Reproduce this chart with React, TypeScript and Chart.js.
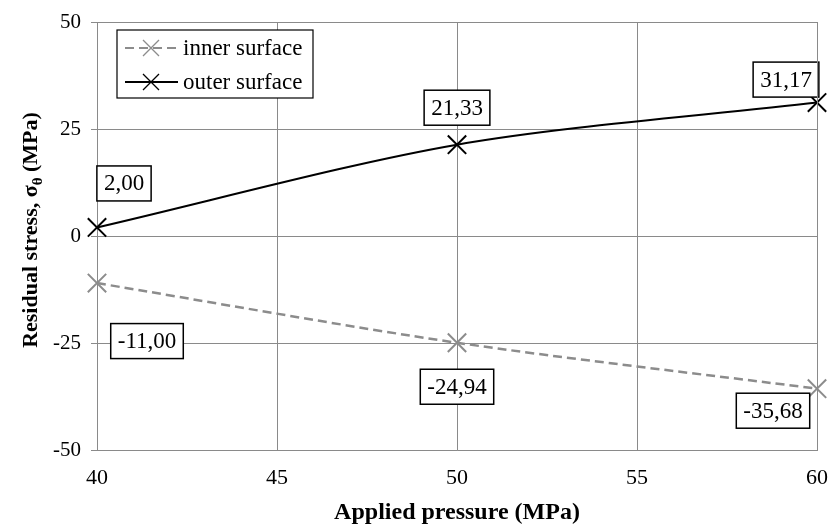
import React, { useEffect, useRef } from "react";
import { Chart, registerables } from "chart.js";

Chart.register(...registerables);

const pressures = [40, 50, 60];
const innerSurface = [-11.0, -24.94, -35.68];
const outerSurface = [2.0, 21.33, 31.17];
const yTicks = [-50, -25, 0, 25, 50];
const xTicks = [40, 45, 50, 55, 60];
const seriesNames = ["inner surface", "outer surface"];
const xTitle = "Applied pressure (MPa)";
const yTitleParts = ["Residual stress, σ", "θ", " (MPa)"];

// label offsets relative to the point (pixels)
const innerLabelOffsets = [
  [50, 58],
  [0, 44],
  [-44, 22],
];
const outerLabelOffsets = [
  [27, -44],
  [0, -37],
  [-31, -23],
];

const FONT = "'Liberation Serif', 'Times New Roman', serif";
const GRID = "#8a8a8a";
const INNER_COLOR = "#8c8c8c";

const fmt = (v: number) => v.toFixed(2).replace(".", ",");

const labelPlugin = {
  id: "boxLabels",
  afterDatasetsDraw(chart: any) {
    const ctx = chart.ctx;
    const offsetsList = [innerLabelOffsets, outerLabelOffsets];
    ctx.save();
    ctx.font = `23px ${FONT}`;
    ctx.textAlign = "center";
    ctx.textBaseline = "middle";
    chart.data.datasets.forEach((ds: any, di: number) => {
      const meta = chart.getDatasetMeta(di);
      meta.data.forEach((pt: any, i: number) => {
        const text = fmt(ds.data[i].y);
        const [dx, dy] = offsetsList[di][i];
        const cx = pt.x + dx;
        const cy = pt.y + dy;
        const w = ctx.measureText(text).width + 14;
        const h = 35;
        ctx.fillStyle = "#fff";
        ctx.fillRect(cx - w / 2, cy - h / 2, w, h);
        ctx.strokeStyle = "#000";
        ctx.lineWidth = 1.5;
        ctx.strokeRect(cx - w / 2, cy - h / 2, w, h);
        ctx.fillStyle = "#000";
        ctx.fillText(text, cx, cy + 1);
      });
    });
    ctx.restore();
  },
};

const legendPlugin = {
  id: "boxLegend",
  afterDraw(chart: any) {
    const ctx = chart.ctx;
    const { left, top } = chart.chartArea;
    const x0 = left + 20;
    const y0 = top + 8;
    const w = 196;
    const h = 68;
    ctx.save();
    ctx.fillStyle = "#fff";
    ctx.fillRect(x0, y0, w, h);
    ctx.strokeStyle = "#000";
    ctx.lineWidth = 1.2;
    ctx.strokeRect(x0, y0, w, h);
    ctx.font = `23px ${FONT}`;
    ctx.textBaseline = "middle";
    ctx.textAlign = "left";
    chart.data.datasets.forEach((ds: any, i: number) => {
      const cy = y0 + 18 + i * 34;
      ctx.strokeStyle = ds.borderColor;
      ctx.lineWidth = 2;
      ctx.setLineDash(ds.borderDash || []);
      ctx.beginPath();
      ctx.moveTo(x0 + 8, cy);
      ctx.lineTo(x0 + 61, cy);
      ctx.stroke();
      ctx.setLineDash([]);
      ctx.lineWidth = 1.3;
      const mx = x0 + 34;
      const r = 8;
      ctx.beginPath();
      ctx.moveTo(mx - r, cy - r);
      ctx.lineTo(mx + r, cy + r);
      ctx.moveTo(mx - r, cy + r);
      ctx.lineTo(mx + r, cy - r);
      ctx.stroke();
      ctx.fillStyle = "#000";
      ctx.fillText(ds.label, x0 + 66, cy + 1);
    });
    ctx.restore();
  },
};

const yTitlePlugin = {
  id: "yTitle",
  afterDraw(chart: any) {
    const ctx = chart.ctx;
    const { top, bottom } = chart.chartArea;
    ctx.save();
    ctx.translate(29, (top + bottom) / 2 - 6);
    ctx.rotate(-Math.PI / 2);
    ctx.fillStyle = "#000";
    ctx.textBaseline = "alphabetic";
    const big = `bold 22px ${FONT}`;
    const small = `bold 15px ${FONT}`;
    ctx.font = big;
    const w0 = ctx.measureText(yTitleParts[0]).width;
    const w2 = ctx.measureText(yTitleParts[2]).width;
    ctx.font = small;
    const w1 = ctx.measureText(yTitleParts[1]).width;
    let x = -(w0 + w1 + w2) / 2;
    const base = 8;
    ctx.font = big;
    ctx.fillText(yTitleParts[0], x, base);
    x += w0;
    ctx.font = small;
    ctx.fillText(yTitleParts[1], x, base + 5);
    x += w1;
    ctx.font = big;
    ctx.fillText(yTitleParts[2], x, base);
    ctx.restore();
  },
};

export default function App() {
  const ref = useRef<HTMLCanvasElement>(null);
  useEffect(() => {
    if (!ref.current) return;
    const chart = new Chart(ref.current, {
      type: "line",
      data: {
        datasets: [
          {
            label: seriesNames[0],
            data: pressures.map((x, i) => ({ x, y: innerSurface[i] })),
            borderColor: INNER_COLOR,
            backgroundColor: INNER_COLOR,
            borderWidth: 2.5,
            borderDash: [9, 5],
            pointStyle: "crossRot",
            pointRadius: 13,
            pointBorderWidth: 2,
            tension: 0.3,
            clip: false,
          },
          {
            label: seriesNames[1],
            data: pressures.map((x, i) => ({ x, y: outerSurface[i] })),
            borderColor: "#000",
            backgroundColor: "#000",
            borderWidth: 2,
            pointStyle: "crossRot",
            pointRadius: 13,
            pointBorderWidth: 2,
            tension: 0.3,
            clip: false,
          },
        ],
      },
      options: {
        animation: false,
        responsive: false,
        layout: { autoPadding: false, padding: { left: 0, right: 11, top: 22, bottom: 0 } },
        plugins: { legend: { display: false }, tooltip: { enabled: false } },
        scales: {
          x: {
            type: "linear",
            min: 40,
            max: 60,
            afterBuildTicks: (s: any) => {
              s.ticks = xTicks.map((v) => ({ value: v }));
            },
            afterFit: (s: any) => {
              s.height = 77;
              s.paddingLeft = 0;
              s.paddingRight = 0;
            },
            grid: { color: GRID, lineWidth: 1, tickLength: 0, drawTicks: false },
            border: { color: GRID, width: 1 },
            ticks: { color: "#000", font: { family: FONT, size: 22 }, padding: 15, maxRotation: 0 },
            title: {
              display: true,
              text: xTitle,
              color: "#000",
              font: { family: FONT, size: 24, weight: "bold" },
              padding: { top: 0, bottom: 0 },
            },
          },
          y: {
            type: "linear",
            min: -50,
            max: 50,
            afterBuildTicks: (s: any) => {
              s.ticks = yTicks.map((v) => ({ value: v }));
            },
            afterFit: (s: any) => {
              s.width = 97;
              s.paddingTop = 0;
              s.paddingBottom = 0;
            },
            grid: { color: GRID, lineWidth: 1, tickLength: 6 },
            border: { color: GRID, width: 1 },
            ticks: { color: "#000", font: { family: FONT, size: 21 }, padding: 10 },
          },
        },
      },
      plugins: [
        {
          id: "frame",
          afterDraw(chart: any) {
            const { left, right, top, bottom } = chart.chartArea;
            const ctx = chart.ctx;
            ctx.save();
            ctx.strokeStyle = GRID;
            ctx.lineWidth = 1;
            ctx.beginPath();
            ctx.moveTo(left, top + 0.5);
            ctx.lineTo(right + 0.5, top + 0.5);
            ctx.lineTo(right + 0.5, bottom);
            ctx.stroke();
            ctx.restore();
          },
        },
        labelPlugin,
        legendPlugin,
        yTitlePlugin,
      ],
    } as any);
    return () => chart.destroy();
  }, []);
  return (
    <div style={{ position: "fixed", left: 0, top: 0, width: 828, height: 527, background: "#fff" }}>
      <canvas ref={ref} width={828} height={527} style={{ width: 828, height: 527, display: "block" }} />
    </div>
  );
}
